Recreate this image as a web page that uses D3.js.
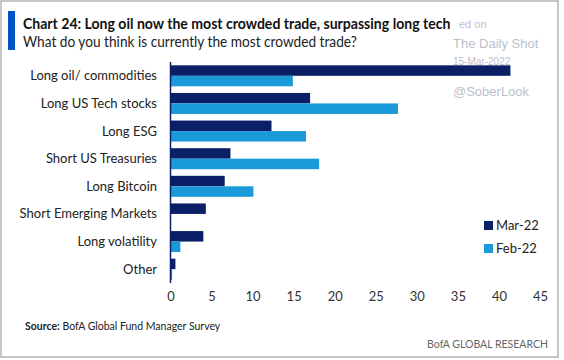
<!DOCTYPE html>
<html>
<head>
<meta charset="utf-8">
<script src="https://cdn.jsdelivr.net/npm/d3@7"></script>
<style>
  body { margin: 0; background: #fff; }
  svg { display: block; font-family: Lato, 'Open Sans', sans-serif; }
</style>
</head>
<body>
<div class="container"></div>
<script>
// survey answers, % of respondents
const categories = ['Long oil/ commodities', 'Long US Tech stocks', 'Long ESG', 'Short US Treasuries',
    'Long Bitcoin', 'Short Emerging Markets', 'Long volatility', 'Other'];
const mar22 = [41.4, 17.0, 12.3, 7.3, 6.6, 4.3, 4.0, 0.6];
const feb22 = [14.9, 27.7, 16.5, 18.1, 10.1, 0, 1.2, 0.2];
const seriesNames = ['Mar-22', 'Feb-22'];
const xTicks = [0, 5, 10, 15, 20, 25, 30, 35, 40, 45];

const width = 564, height = 360;
const colors = ['#0a1f66', '#1a9ad8'];

const svg = d3.select('.container')
    .append('svg')
    .attr('width', width)
    .attr('height', height);

// frame
svg.append('rect')
    .attr('x', 1).attr('y', 1)
    .attr('width', 557).attr('height', 356)
    .attr('fill', '#fff')
    .attr('stroke', '#b4b4b4')
    .attr('stroke-width', 1.5);

// watermark (the "Post" part sits under the title in the original)
const wm = svg.append('g').attr('fill', '#bcbfcd').attr('font-family', 'Liberation Sans, Arial, sans-serif');
wm.append('text').attr('x', 459).attr('y', 28).attr('font-size', 11).text('ed on');
wm.append('text').attr('x', 453).attr('y', 48).attr('font-size', 13).text('The Daily Shot');
wm.append('text').attr('x', 453).attr('y', 65).attr('font-size', 10).text('15-Mar-2022');
wm.append('text').attr('x', 453).attr('y', 96).attr('font-size', 13).text('@SoberLook');

// squeeze a text horizontally to a given width (original uses a condensed face)
function fitText(sel, x0, y0, w) {
    const natural = sel.node().getComputedTextLength();
    sel.attr('transform', `translate(${x0},${y0}) scale(${Math.min(1, w / natural)},1)`);
}

// title block
svg.append('rect').attr('x', 8).attr('y', 11).attr('width', 7).attr('height', 39).attr('fill', '#0054c8');
const title = svg.append('text')
    .attr('font-size', 16).attr('font-weight', 700).attr('fill', '#111')
    .text('Chart 24: Long oil now the most crowded trade, surpassing long tech');
fitText(title, 23, 29, 428);
const subtitle = svg.append('text')
    .attr('font-size', 15).attr('fill', '#222')
    .text('What do you think is currently the most crowded trade?');
fitText(subtitle, 23, 47, 334);

const margin = {left: 170.5, top: 62, bottom: 283};
const x = d3.scaleLinear().domain([0, 45]).range([margin.left, 540]);
const y = d3.scaleBand().domain(categories).range([margin.top, margin.bottom]).paddingInner(0.24).paddingOuter(0.12);
const ySub = d3.scaleBand().domain(seriesNames).range([0, y.bandwidth()]);

const rows = categories.map((c, i) => ({cat: c, vals: [mar22[i], feb22[i]]}));

const groups = svg.append('g')
    .selectAll('g')
    .data(rows)
    .join('g')
    .attr('transform', d => `translate(0,${y(d.cat)})`);

groups.selectAll('rect')
    .data(d => d.vals.map((v, j) => ({v, s: seriesNames[j], j})))
    .join('rect')
    .attr('x', x(0))
    .attr('y', d => ySub(d.s))
    .attr('width', d => x(d.v) - x(0))
    .attr('height', ySub.bandwidth())
    .attr('fill', d => colors[d.j]);

// category labels
svg.append('g')
    .selectAll('text')
    .data(categories)
    .join('text')
    .attr('x', 157)
    .attr('y', d => y(d) + y.bandwidth() / 2)
    .attr('dy', '0.35em')
    .attr('text-anchor', 'end')
    .attr('font-size', 13)
    .attr('fill', '#222')
    .text(d => d);

// vertical axis line
svg.append('line')
    .attr('x1', x(0)).attr('x2', x(0))
    .attr('y1', margin.top).attr('y2', margin.bottom)
    .attr('stroke', '#0a1f66')
    .attr('stroke-width', 1.5);

// x axis (labels only)
const xAxis = svg.append('g')
    .attr('transform', `translate(0,${margin.bottom})`)
    .call(d3.axisBottom(x).tickValues(xTicks).tickSize(0).tickPadding(9));
xAxis.select('.domain').remove();
xAxis.selectAll('text').attr('font-size', 13).attr('fill', '#333').attr('font-family', 'Lato, sans-serif');

// legend
const legend = svg.append('g')
    .selectAll('g')
    .data(seriesNames)
    .join('g')
    .attr('transform', (d, i) => `translate(484,${221 + i * 23})`);
legend.append('rect').attr('width', 9).attr('height', 9).attr('fill', (d, i) => colors[i]);
legend.append('text')
    .attr('x', 12).attr('y', 4.5).attr('dy', '0.35em')
    .attr('font-size', 13).attr('fill', '#222')
    .text(d => d);

// footer
const src = svg.append('text').attr('x', 25).attr('y', 330).attr('font-size', 10.5).attr('fill', '#222');
src.append('tspan').attr('font-weight', 700).text('Source:');
src.append('tspan').text('  BofA Global Fund Manager Survey');
svg.append('text')
    .attr('x', 548).attr('y', 348)
    .attr('text-anchor', 'end')
    .attr('font-size', 10.5).attr('fill', '#666')
    .text('BofA GLOBAL RESEARCH');
</script>
</body>
</html>
